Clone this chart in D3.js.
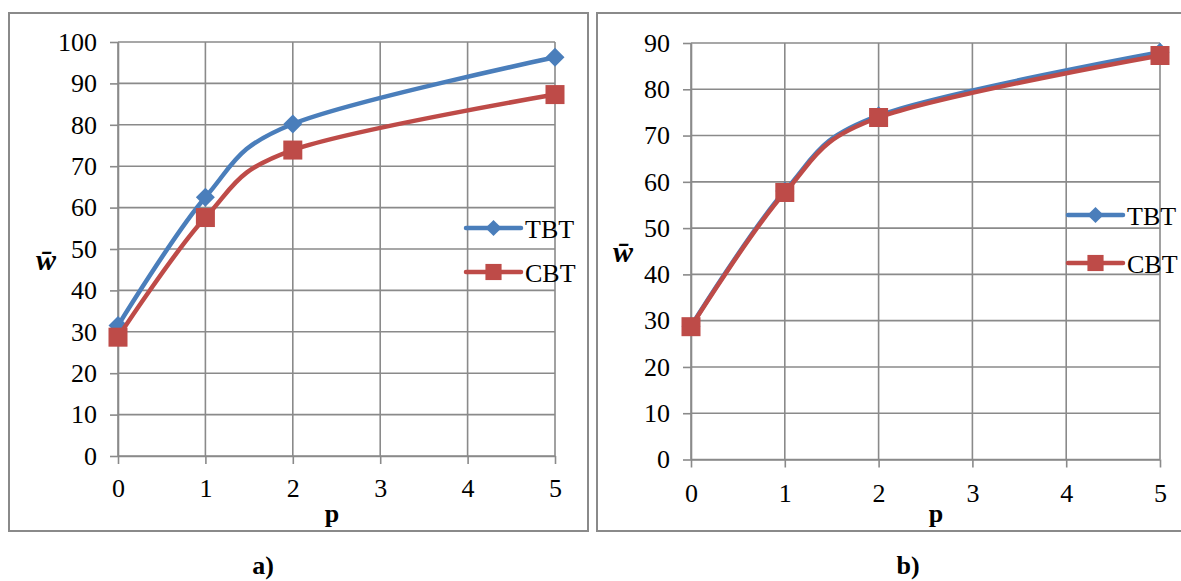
<!DOCTYPE html>
<html><head><meta charset="utf-8">
<script src="https://cdn.jsdelivr.net/npm/d3@7"></script>
<style>body{margin:0;background:#fff}svg{display:block}</style>
</head><body>
<svg id="c" width="1181" height="581"></svg>
<script>
// ---- data ----
const pValues = [0, 1, 2, 5];
const xTicks = [0, 1, 2, 3, 4, 5];
const seriesNames = ["TBT", "CBT"];
const tbtA = [31.5, 62.5, 80.2, 96.3];
const cbtA = [28.7, 57.6, 73.9, 87.3];
const tbtB = [28.8, 58.0, 74.3, 88.0];
const cbtB = [28.7, 57.7, 73.9, 87.3];
const yTicksA = [0,10,20,30,40,50,60,70,80,90,100];
const yTicksB = [0,10,20,30,40,50,60,70,80,90];
const panelLabels = ["a)", "b)"];
const xTitle = "p";
const yTitle = "w\u0304";

const colors = {TBT: "#4A7EBB", CBT: "#BE4B48"};
const gridC = "#8a8a8a";
const font = "'Liberation Serif','Times New Roman',serif";

const svg = d3.select("#c");

function panel(cfg) {
  const g = svg.append("g");
  g.append("rect").attr("x", cfg.box[0]).attr("y", cfg.box[1]).attr("width", cfg.box[2]).attr("height", cfg.box[3])
    .attr("fill", "none").attr("stroke", gridC).attr("stroke-width", 2);
  const x = d3.scaleLinear().domain([0, 5]).range(cfg.xr);
  const y = d3.scaleLinear().domain([0, cfg.yMax]).range(cfg.yr);
  g.selectAll(".hg").data(cfg.yTicks).join("line")
    .attr("x1", cfg.xr[0]).attr("x2", cfg.xr[1]).attr("y1", d => y(d)).attr("y2", d => y(d))
    .attr("stroke", gridC).attr("stroke-width", 1.6);
  g.selectAll(".vg").data(xTicks).join("line")
    .attr("x1", d => x(d)).attr("x2", d => x(d)).attr("y1", cfg.yr[0]).attr("y2", cfg.yr[1])
    .attr("stroke", gridC).attr("stroke-width", 1.6);
  const ya = g.append("g").attr("transform", `translate(${cfg.xr[0]},0)`)
    .call(d3.axisLeft(y).tickValues(cfg.yTicks).tickFormat(d3.format("d")).tickSize(8).tickPadding(cfg.yPad).tickSizeOuter(0));
  const xa = g.append("g").attr("transform", `translate(0,${cfg.yr[0]})`)
    .call(d3.axisBottom(x).tickValues(xTicks).tickFormat(d3.format("d")).tickSize(8).tickPadding(cfg.xPad).tickSizeOuter(0));
  [ya, xa].forEach(a => {
    a.attr("font-family", null).attr("font-size", null);
    a.select(".domain").attr("stroke", gridC).attr("stroke-width", 1.6);
    a.selectAll(".tick line").attr("stroke", gridC).attr("stroke-width", 1.6);
    a.selectAll("text").attr("font-family", font).attr("font-size", 26).attr("fill", "#000");
  });
  const line = d3.line().x((d, i) => x(pValues[i])).y(d => y(d)).curve(d3.curveCatmullRom.alpha(0));
  cfg.series.forEach(s => {
    g.append("path").attr("d", line(s.values)).attr("fill", "none")
      .attr("stroke", colors[s.name]).attr("stroke-width", 4.5).attr("stroke-linecap", "round");
    s.values.forEach((v, i) => marker(g, s.name, x(pValues[i]), y(v), 1));
  });
  cfg.series.forEach((s, i) => {
    const ly = cfg.leg.y[i];
    g.append("line").attr("x1", cfg.leg.x).attr("x2", cfg.leg.x + 55).attr("y1", ly).attr("y2", ly)
      .attr("stroke", colors[s.name]).attr("stroke-width", 4.5).attr("stroke-linecap", "round");
    marker(g, s.name, cfg.leg.x + 27.5, ly, 0.85);
    g.append("text").attr("x", cfg.leg.x + 59).attr("y", ly + 9.5).text(s.name)
      .attr("font-family", font).attr("font-size", 26).attr("fill", "#000");
  });
  g.append("text").attr("x", cfg.pX).attr("y", cfg.pY).attr("text-anchor", "middle").text(xTitle)
    .attr("font-family", font).attr("font-size", 26).attr("font-weight", "bold");
  g.append("text").attr("x", cfg.wX).attr("y", cfg.wY).attr("text-anchor", "middle").text(yTitle)
    .attr("font-family", font).attr("font-size", 30).attr("font-weight", "bold").attr("font-style", "italic");
  g.append("text").attr("x", cfg.labX).attr("y", 574).attr("text-anchor", "middle").text(cfg.label)
    .attr("font-family", font).attr("font-size", 26).attr("font-weight", "bold");
}

function marker(g, name, cx, cy, k) {
  if (name === "TBT") {
    const r = 9.5 * k;
    g.append("path").attr("d", `M${cx},${cy - r}L${cx + r},${cy}L${cx},${cy + r}L${cx - r},${cy}Z`)
      .attr("fill", colors.TBT);
  } else {
    const s = 19 * k;
    g.append("rect").attr("x", cx - s / 2).attr("y", cy - s / 2).attr("width", s).attr("height", s)
      .attr("fill", colors.CBT);
  }
}

panel({
  box: [9, 13, 579, 518], xr: [118, 555], yr: [456, 42], yMax: 100, yTicks: yTicksA,
  yPad: 13, xPad: 15,
  series: [{name: "TBT", values: tbtA}, {name: "CBT", values: cbtA}],
  leg: {x: 466, y: [228, 272]}, pX: 332, pY: 522, wX: 46, wY: 270, labX: 263, label: panelLabels[0]
});
panel({
  box: [597, 13, 600, 518], xr: [691, 1160], yr: [459.5, 43], yMax: 90, yTicks: yTicksB,
  yPad: 13, xPad: 16,
  series: [{name: "TBT", values: tbtB}, {name: "CBT", values: cbtB}],
  leg: {x: 1068, y: [215, 263]}, pX: 936, pY: 522, wX: 623, wY: 262, labX: 908, label: panelLabels[1]
});
</script>
</body></html>
